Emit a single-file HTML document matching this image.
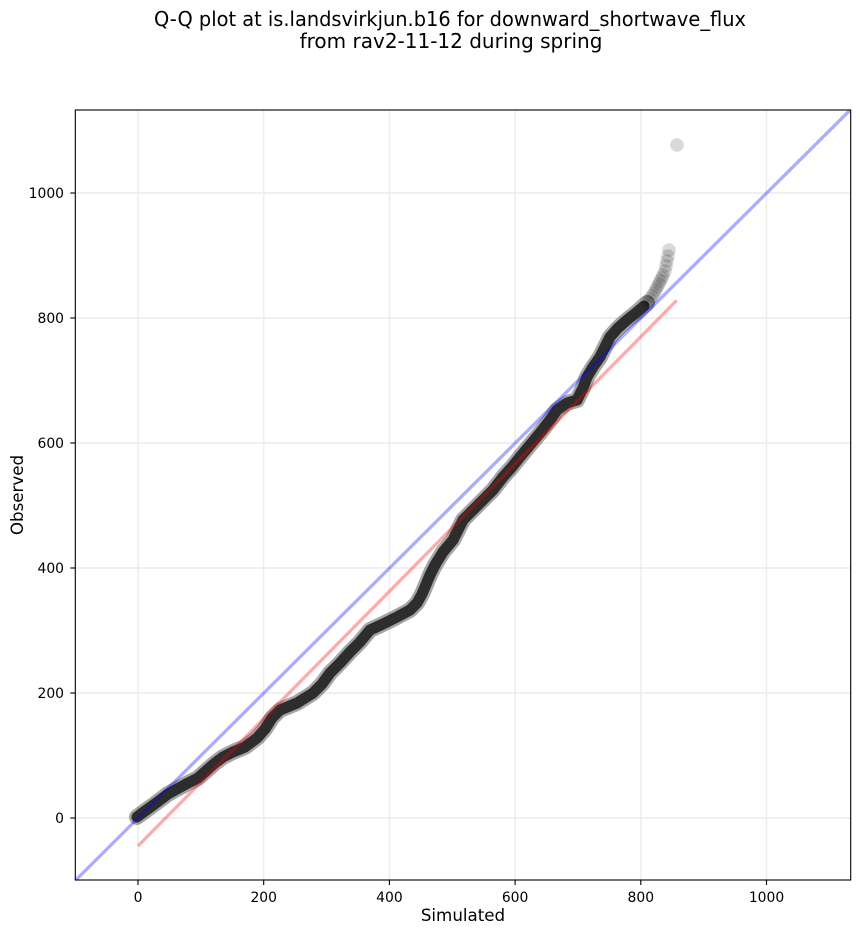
<!DOCTYPE html>
<html>
<head>
<meta charset="utf-8">
<style>
html,body{margin:0;padding:0;background:#fff;}
svg{display:block;}
text{font-family:"DejaVu Sans","Liberation Sans",sans-serif;fill:#000;}
</style>
</head>
<body>
<svg width="860" height="934" viewBox="0 0 860 934" xmlns="http://www.w3.org/2000/svg">
<defs>
<clipPath id="ax"><rect x="75.3" y="110" width="775.4" height="770"/></clipPath>
</defs>
<rect x="0" y="0" width="860" height="934" fill="#fff"/>
<!-- title -->
<text x="450" y="26" font-size="20" text-anchor="middle" textLength="592" lengthAdjust="spacingAndGlyphs">Q-Q plot at is.landsvirkjun.b16 for downward_shortwave_flux</text>
<text x="451" y="48" font-size="20" text-anchor="middle">from rav2-11-12 during spring</text>

<!-- grid -->
<g stroke="#ececec" stroke-width="1.4">
<line x1="138" y1="110" x2="138" y2="880"/>
<line x1="263.7" y1="110" x2="263.7" y2="880"/>
<line x1="389.4" y1="110" x2="389.4" y2="880"/>
<line x1="515.1" y1="110" x2="515.1" y2="880"/>
<line x1="640.8" y1="110" x2="640.8" y2="880"/>
<line x1="766.5" y1="110" x2="766.5" y2="880"/>
<line x1="75.3" y1="818" x2="850.7" y2="818"/>
<line x1="75.3" y1="693" x2="850.7" y2="693"/>
<line x1="75.3" y1="568" x2="850.7" y2="568"/>
<line x1="75.3" y1="443" x2="850.7" y2="443"/>
<line x1="75.3" y1="318" x2="850.7" y2="318"/>
<line x1="75.3" y1="193" x2="850.7" y2="193"/>
</g>

<g clip-path="url(#ax)">
<!-- scatter as dense band -->
<polyline fill="none" stroke="#000" stroke-opacity="0.35" stroke-width="16" stroke-linecap="round" stroke-linejoin="round"
points="137,817 145,811 152,806 160,800 168,794 177,789 188,783 198,778 207,770 215,763 223,757 233,752 245,747 257,738 265,729 272,718 280,710 297,703 313,693 322,684 330,673 340,663 350,652 360,642 370,630 383,624 397,617 410,610 417,603 422,594 425,587 430,575 435,565 443,552 453,540 458,530 463,520 473,510 483,500 493,490 503,477 512,467 520,457 530,445 540,433 550,420 557,410 567,403 577,400 583,388 587,377 593,367 600,357 605,347 610,337 618,328 627,320 637,312 647,303"/>
<polyline fill="none" stroke="#262626" stroke-opacity="0.95" stroke-width="11" stroke-linecap="round" stroke-linejoin="round"
points="137,817 145,811 152,806 160,800 168,794 177,789 188,783 198,778 207,770 215,763 223,757 233,752 245,747 257,738 265,729 272,718 280,710 297,703 313,693 322,684 330,673 340,663 350,652 360,642 370,630 383,624 397,617 410,610 417,603 422,594 425,587 430,575 435,565 443,552 453,540 458,530 463,520 473,510 483,500 493,490 503,477 512,467 520,457 530,445 540,433 550,420 557,410 567,403 577,400 583,388 587,377 593,367 600,357 605,347 610,337 618,328 627,320 637,312 644,306"/>
<g fill="#000" fill-opacity="0.15">
<circle cx="648" cy="302" r="6.8"/>
<circle cx="650" cy="299" r="6.8"/>
<circle cx="652" cy="296" r="6.8"/>
<circle cx="654" cy="293" r="6.8"/>
<circle cx="656" cy="290" r="6.8"/>
<circle cx="657" cy="287" r="6.8"/>
<circle cx="659" cy="284" r="6.8"/>
<circle cx="660" cy="281" r="6.8"/>
<circle cx="662" cy="278" r="6.8"/>
<circle cx="663" cy="275" r="6.8"/>
<circle cx="665" cy="271" r="6.8"/>
<circle cx="666" cy="266" r="6.8"/>
<circle cx="667" cy="261" r="6.8"/>
<circle cx="668" cy="256" r="6.8"/>
<circle cx="669" cy="250" r="6.8"/>
<circle cx="677" cy="145" r="6.8"/>
</g>
<!-- 1:1 line -->
<line x1="75.3" y1="880.5" x2="850.7" y2="109.5" stroke="#0000ff" stroke-opacity="0.33" stroke-width="3.3"/>
<!-- fit line -->
<line x1="138" y1="846" x2="676.6" y2="300.5" stroke="#ff0000" stroke-opacity="0.33" stroke-width="3.3"/>
</g>

<!-- axes frame -->
<rect x="75.3" y="110" width="775.4" height="770" fill="none" stroke="#000" stroke-width="1.1"/>

<!-- ticks -->
<g stroke="#000" stroke-width="1.1">
<line x1="138" y1="880" x2="138" y2="885"/>
<line x1="263.7" y1="880" x2="263.7" y2="885"/>
<line x1="389.4" y1="880" x2="389.4" y2="885"/>
<line x1="515.1" y1="880" x2="515.1" y2="885"/>
<line x1="640.8" y1="880" x2="640.8" y2="885"/>
<line x1="766.5" y1="880" x2="766.5" y2="885"/>
<line x1="70.3" y1="818" x2="75.3" y2="818"/>
<line x1="70.3" y1="693" x2="75.3" y2="693"/>
<line x1="70.3" y1="568" x2="75.3" y2="568"/>
<line x1="70.3" y1="443" x2="75.3" y2="443"/>
<line x1="70.3" y1="318" x2="75.3" y2="318"/>
<line x1="70.3" y1="193" x2="75.3" y2="193"/>
</g>
<g font-size="13.9" text-anchor="middle">
<text x="138" y="902">0</text>
<text x="263.7" y="902">200</text>
<text x="389.4" y="902">400</text>
<text x="515.1" y="902">600</text>
<text x="640.8" y="902">800</text>
<text x="766.5" y="902">1000</text>
</g>
<g font-size="13.9" text-anchor="end">
<text x="64" y="823">0</text>
<text x="64" y="698">200</text>
<text x="64" y="573">400</text>
<text x="64" y="448">600</text>
<text x="64" y="323">800</text>
<text x="64" y="198">1000</text>
</g>
<text x="463" y="921" font-size="16.7" text-anchor="middle">Simulated</text>
<text x="0" y="0" font-size="16.7" text-anchor="middle" transform="translate(23,495) rotate(-90)">Observed</text>
</svg>
</body>
</html>
